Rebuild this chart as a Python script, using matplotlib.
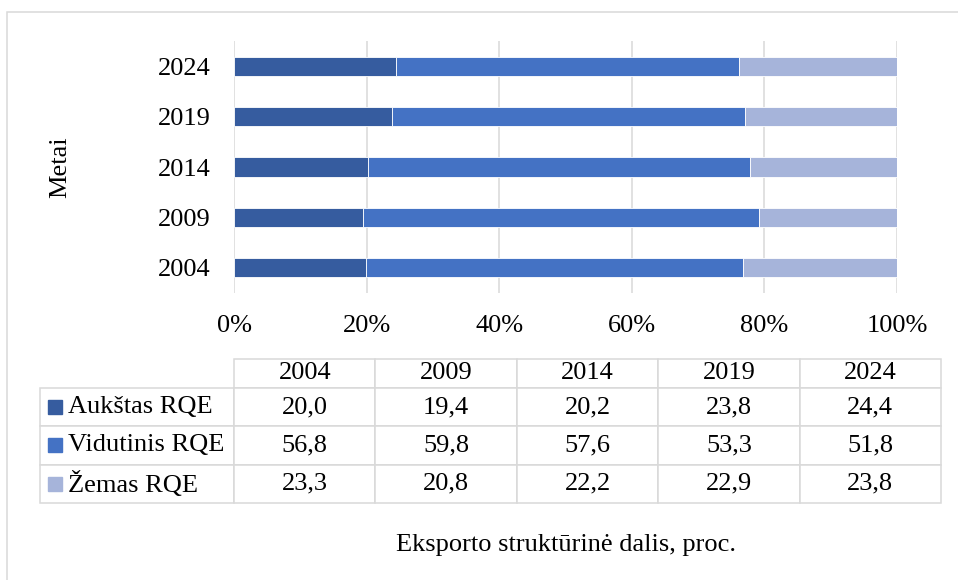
import matplotlib.pyplot as plt
import numpy as np
from matplotlib.patches import Rectangle

# duomenys (proc.)
metai = ['2004', '2009', '2014', '2019', '2024']
serijos = ['Aukštas RQE', 'Vidutinis RQE', 'Žemas RQE']
auksta = [20.0, 19.4, 20.2, 23.8, 24.4]
vidutine = [56.8, 59.8, 57.6, 53.3, 51.8]
zema = [23.3, 20.8, 22.2, 22.9, 23.8]
spalvos = ['#365C9F', '#4472C4', '#A6B4DA']

plt.rcParams['font.family'] = ['Liberation Serif', 'DejaVu Serif']
plt.rcParams['font.size'] = 19

fig = plt.figure(figsize=(9.58, 5.8), dpi=100)
ax = fig.add_axes([234 / 958, 1 - 293 / 580, 663 / 958, 252 / 580])

reiksmes = np.array([auksta, vidutine, zema])
dalys = reiksmes / reiksmes.sum(axis=0) * 100  # 100 % sudėtinės juostos

y = np.arange(len(metai))
kaire = np.zeros(len(metai))
for i in range(len(serijos)):
    ax.barh(y, dalys[i], left=kaire, height=0.38, color=spalvos[i],
            edgecolor='white', linewidth=0.6, zorder=3)
    kaire += dalys[i]

ax.set_xlim(0, 100)
ax.set_ylim(-0.5, len(metai) - 0.5)
ax.set_yticks(y)
ax.set_yticklabels(metai)
ax.set_xticks(np.arange(0, 101, 20))
ax.set_xticklabels([f'{v}%' for v in range(0, 101, 20)])
ax.tick_params(axis='both', length=0)
ax.tick_params(axis='y', pad=17)
ax.tick_params(axis='x', pad=16)
ax.grid(axis='x', color='#D9D9D9', linewidth=1.1, zorder=0)
for s in ax.spines.values():
    s.set_visible(False)

# lentelė po grafiku
lent_virsus = (293 - 359) / 252
lent_apacia = (293 - 503) / 252
lent_kaire = (40 - 234) / 663
lent_desine = (941 - 234) / 663
H = lent_virsus - lent_apacia

eilutes = []
for i, pav in enumerate(serijos):
    eilutes.append([pav] + [f'{v:.1f}'.replace('.', ',') for v in reiksmes[i]])

tbl = ax.table(cellText=eilutes, colLabels=[''] + metai,
               colWidths=[194] + [141.4] * len(metai), cellLoc='center',
               bbox=[lent_kaire, lent_apacia, lent_desine - lent_kaire, H])
tbl.auto_set_font_size(False)
tbl.set_fontsize(19)
for (r, c), cell in tbl.get_celld().items():
    cell.set_edgecolor('#D9D9D9')
    cell.set_linewidth(1.1)
    if r == 0:
        cell.set_height(cell.get_height() * 0.75)
    if c == 0:
        cell.get_text().set_ha('left')
        cell._loc = 'left'
        cell.PAD = 0.144
tbl[0, 0].visible_edges = ''

# spalvoti kvadratėliai prie eilučių pavadinimų
hh = 0.2 * H
rh = (H - hh) / 3
kv_w = 14 / 663
kv_h = 14 / 252
for i in range(len(serijos)):
    yc = lent_virsus - hh - (i + 0.5) * rh
    ax.add_patch(Rectangle(((48 - 234) / 663, yc - kv_h / 2), kv_w, kv_h,
                           transform=ax.transAxes, color=spalvos[i],
                           clip_on=False, zorder=5))

fig.text(60 / 958, 1 - 167 / 580, 'Metai', rotation=90, ha='center', va='center')
fig.text(566 / 958, 1 - 545 / 580, 'Eksporto struktūrinė dalis, proc.',
         ha='center', va='center')

# rėmelis
fig.add_artist(Rectangle((7 / 958, -0.1), 1.2, 1 - 12 / 580 + 0.1,
                         transform=fig.transFigure, fill=False,
                         edgecolor='#D9D9D9', linewidth=1.1))

fig.savefig('out.png', dpi=100)
